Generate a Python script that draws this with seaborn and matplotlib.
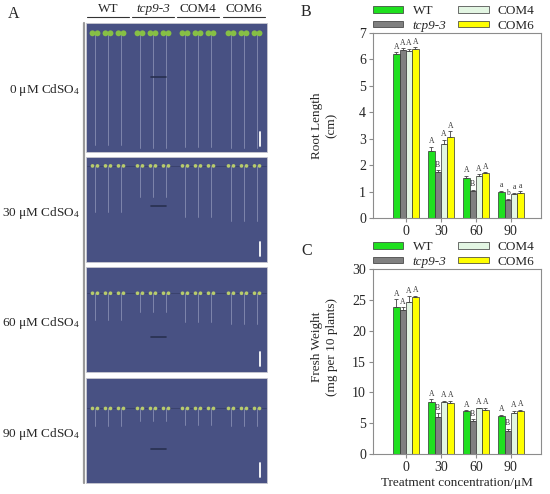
import numpy as np
import pandas as pd
import matplotlib
matplotlib.use("Agg")
import matplotlib.pyplot as plt
import seaborn as sns
from matplotlib.patches import Rectangle, Patch

# ---- data ----
genotypes = ["WT", "tcp9-3", "COM4", "COM6"]
concentrations = ["0", "30", "60", "90"]
colors = ["#1fe01f", "#808080", "#e3f6e3", "#ffff00"]
row_labels = ["0 μM CdSO$_4$", "30 μM CdSO$_4$", "60 μM CdSO$_4$", "90 μM CdSO$_4$"]

# root length (cm), one row per genotype, columns = concentrations
root_mean = [[6.20, 2.55, 1.51, 0.97],
             [6.37, 1.73, 1.03, 0.69],
             [6.33, 2.81, 1.59, 0.92],
             [6.39, 3.06, 1.69, 0.95]]
root_err = [[0.08, 0.15, 0.08, 0.06],
            [0.06, 0.07, 0.04, 0.04],
            [0.07, 0.16, 0.06, 0.04],
            [0.07, 0.22, 0.05, 0.07]]
root_letters = [["A", "A", "A", "a"],
                ["A", "B", "B", "b"],
                ["A", "A", "A", "a"],
                ["A", "A", "A", "a"]]

# fresh weight (mg per 10 plants)
fw_mean = [[23.8, 8.5, 6.9, 6.2],
           [23.4, 6.0, 5.3, 3.8],
           [24.6, 8.4, 7.4, 6.6],
           [25.5, 8.2, 7.2, 6.9]]
fw_err = [[1.3, 0.4, 0.2, 0.2],
          [0.4, 0.6, 0.3, 0.3],
          [1.0, 0.2, 0.1, 0.4],
          [0.2, 0.4, 0.3, 0.3]]
fw_letters = [["A", "A", "A", "A"],
              ["A", "B", "B", "B"],
              ["A", "A", "A", "A"],
              ["A", "A", "A", "A"]]

FS = 9.5


def to_long(values):
    rows = []
    for i, g in enumerate(genotypes):
        for j, c in enumerate(concentrations):
            rows.append({"genotype": g, "conc": c, "value": values[i][j]})
    return pd.DataFrame(rows)


def px_box(x0, y0, x1, y1):
    return [x0 / 550, 1 - y1 / 494, (x1 - x0) / 550, (y1 - y0) / 494]


sns.set_theme(style="white")
plt.rcParams["font.family"] = ["Liberation Serif", "DejaVu Serif"]
plt.rcParams["mathtext.fontset"] = "custom"
plt.rcParams["mathtext.rm"] = "Liberation Serif"
plt.rcParams["mathtext.it"] = "Liberation Serif:italic"

fig = plt.figure(figsize=(5.5, 4.94), dpi=100)
fig.patch.set_facecolor("white")

# ---- panel A: drawn sketch of the plates, in pixel coordinates ----
axA = fig.add_axes([0, 0, 1, 1])
axA.set_xlim(0, 550)
axA.set_ylim(494, 0)
axA.axis("off")
axA.patch.set_visible(False)

axA.text(8, 14, "A", fontsize=11.5, ha="left", va="center")
geno_x = [108, 153, 198, 244]
for k, g in enumerate(genotypes):
    axA.text(geno_x[k], 9, g, fontsize=FS, ha="center", va="center",
             style="italic" if k == 1 else "normal")
    axA.plot([geno_x[k] - 21, geno_x[k] + 21], [17, 17], color="#333333", lw=0.8)

plate_y = [(23, 152), (157, 262), (267, 372), (378, 483)]
seed_frac = [0.08, 0.085, 0.25, 0.29]
mark_frac = [0.42, 0.47, 0.67, 0.68]
px_per_cm = 18
axA.plot([83.5, 83.5], [23, 483], color="#9a9a9a", lw=1.6)
for p, (y0, y1) in enumerate(plate_y):
    axA.add_patch(Rectangle((86, y0), 181, y1 - y0, facecolor="#485183",
                            edgecolor="#c8c8d0", lw=0.6))
    axA.text(80, (y0 + y1) / 2 + 3, row_labels[p], fontsize=FS, ha="right", va="center")
    ys = y0 + seed_frac[p] * (y1 - y0)
    if p > 0:
        axA.plot([87, 266], [ys, ys], color="#343c66", lw=0.5)
    for k in range(4):
        for s in (-13, 0, 13):
            x = geno_x[k] + s
            axA.plot([x, x], [ys, ys + root_mean[k][p] * px_per_cm],
                     color="#a8adcc", lw=0.6, alpha=0.65)
            leaf = "#86bf45" if p == 0 else "#b8cc6c"
            size = 18 if p == 0 else 7
            axA.scatter([x - 2.5, x + 2.5], [ys, ys], s=size, color=leaf,
                        edgecolor="none", zorder=3)
    ym = y0 + mark_frac[p] * (y1 - y0)
    axA.plot([151, 166], [ym, ym], color="#283050", lw=1.2)
    axA.plot([260, 260], [y1 - 20, y1 - 6], color="white", lw=1.3)


# ---- bar panels ----
def bar_panel(ax, values, errs, letters, ylim, yticks, ylabel, label_y):
    df = to_long(values)
    sns.barplot(data=df, x="conc", y="value", hue="genotype", order=concentrations,
                hue_order=genotypes, palette=colors, saturation=1, width=0.72,
                edgecolor="#333333", linewidth=0.5, errorbar=None, legend=False, ax=ax)
    bar_groups = list(ax.containers)
    for i, cont in enumerate(bar_groups):
        for j, bar in enumerate(cont):
            x = bar.get_x() + bar.get_width() / 2
            top = bar.get_height()
            e = errs[i][j]
            ax.errorbar([x], [top], yerr=[[0], [e]], fmt="none", ecolor="#444444",
                        elinewidth=0.6, capsize=1.6, capthick=0.6)
            ax.text(x, top + e + ylim[1] * 0.008, letters[i][j], fontsize=5.5,
                    ha="center", va="bottom", color="#333333")
    ax.set_xlim(-0.94, 3.86)
    ax.set_ylim(*ylim)
    ax.set_yticks(yticks)
    ax.set_xlabel("")
    ax.set_ylabel(ylabel, fontsize=FS, linespacing=1.35)
    ax.yaxis.set_label_coords(-0.21, label_y)
    for sp in ax.spines.values():
        sp.set_visible(True)
        sp.set_color("#8c8c8c")
        sp.set_linewidth(0.8)
    ax.tick_params(direction="out", length=3, width=0.8, color="#8c8c8c",
                   labelsize=FS + 0.5, pad=2, left=True, bottom=True)
    ax.set_facecolor("white")


axB = fig.add_axes(px_box(373, 33, 541, 218))
bar_panel(axB, root_mean, root_err, root_letters, (0, 7), range(0, 8),
          "Root Length\n(cm)", 0.5)
axC = fig.add_axes(px_box(373, 269, 541, 454))
bar_panel(axC, fw_mean, fw_err, fw_letters, (0, 30), range(0, 31, 5),
          "Fresh Weight\n(mg per 10 plants)", 0.58)
axC.set_xlabel("Treatment concentration/μM", fontsize=FS, labelpad=2)

axA.text(301, 12, "B", fontsize=11.5, ha="left", va="center")
axA.text(301, 251, "C", fontsize=11.5, ha="left", va="center")

handles = [Patch(facecolor=c, edgecolor="#333333", linewidth=0.5) for c in colors]
for top_px in (5, 241):
    leg = fig.legend(handles, genotypes, ncol=2, loc="upper left",
                     bbox_to_anchor=(373 / 550, 1 - top_px / 494), frameon=False,
                     fontsize=FS, handlelength=2.3, handleheight=0.4,
                     handletextpad=0.7, columnspacing=0.9, labelspacing=0.2,
                     borderpad=0, borderaxespad=0)
    leg.get_texts()[1].set_fontstyle("italic")

fig.savefig("out.png", dpi=100)
